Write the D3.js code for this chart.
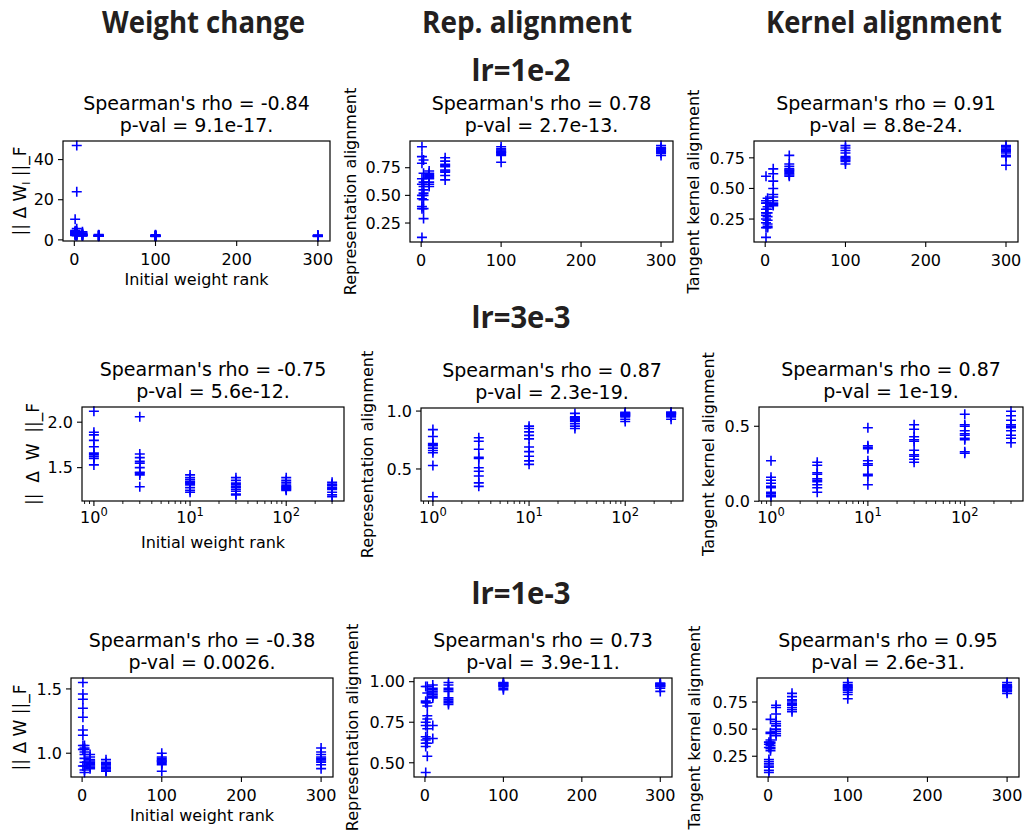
<!DOCTYPE html>
<html><head><meta charset="utf-8">
<script src="https://cdn.jsdelivr.net/npm/d3@7"></script>
<style>
body{margin:0;background:#fff;}
svg text{font-family:"DejaVu Sans",sans-serif;fill:#000;}
.hdr{font-family:"Liberation Sans Narrow","Open Sans",sans-serif;font-weight:bold;fill:#231f20;}
</style></head><body><svg id="c" width="1024" height="837"></svg>
<script>
const ranks = [1, 3, 10, 30, 100, 300];
const columnHeaders = ["Weight change", "Rep. alignment", "Kernel alignment"];
const rowHeaders = ["lr=1e-2", "lr=3e-3", "lr=1e-3"];
const rhoTexts = [["-0.84", "0.78", "0.91"], ["-0.75", "0.87", "0.87"], ["-0.38", "0.73", "0.95"]];
const pvalTexts = [["9.1e-17", "2.7e-13", "8.8e-24"], ["5.6e-12", "2.3e-19", "1e-19"], ["0.0026", "3.9e-11", "2.6e-31"]];
const yAxisLabels = ["|| Δ W ||_F", "Representation alignment", "Tangent kernel alignment"];
const xAxisLabel = "Initial weight rank";
const linearXTicks = [0, 100, 200, 300];
const logXTicks = [1, 10, 100];
const yTicksLr1e2 = [[0, 20, 40], [0.25, 0.5, 0.75], [0.25, 0.5, 0.75]];
const yTicksLr3e3 = [[1.5, 2.0], [0.5, 1.0], [0.0, 0.5]];
const yTicksLr1e3 = [[1.0, 1.5], [0.5, 0.75, 1.0], [0.25, 0.5, 0.75]];

// values per rank (rows follow `ranks`), ten runs each
const weightChange_lr1e2 = [
  [10.3, 4.6, 4.1, 3.7, 3.3, 3.0, 2.8, 2.5, 2.2, 3.9],
  [47.0, 24.0, 5.6, 4.3, 3.6, 3.1, 2.9, 2.6, 2.4, 2.1],
  [4.0, 3.4, 3.0, 2.8, 2.6, 2.5, 2.3, 2.2, 2.1, 2.0],
  [2.6, 2.4, 2.3, 2.2, 2.1, 2.0, 1.9, 1.9, 1.8, 1.8],
  [2.5, 2.3, 2.2, 2.1, 2.0, 2.0, 1.9, 1.8, 1.8, 1.7],
  [2.4, 2.2, 2.1, 2.0, 2.0, 1.9, 1.9, 1.8, 1.8, 1.7]];
const repAlign_lr1e2 = [
  [0.94, 0.85, 0.79, 0.65, 0.60, 0.50, 0.47, 0.40, 0.38, 0.12],
  [0.82, 0.70, 0.62, 0.58, 0.55, 0.52, 0.50, 0.46, 0.38, 0.29],
  [0.72, 0.70, 0.69, 0.68, 0.67, 0.66, 0.65, 0.62, 0.60, 0.58],
  [0.84, 0.81, 0.78, 0.77, 0.76, 0.73, 0.72, 0.71, 0.68, 0.64],
  [0.94, 0.92, 0.91, 0.90, 0.89, 0.89, 0.88, 0.87, 0.86, 0.80],
  [0.95, 0.93, 0.92, 0.92, 0.91, 0.90, 0.90, 0.89, 0.88, 0.86]];
const kernelAlign_lr1e2 = [
  [0.60, 0.40, 0.38, 0.33, 0.30, 0.28, 0.25, 0.22, 0.18, 0.10],
  [0.42, 0.38, 0.35, 0.33, 0.30, 0.27, 0.24, 0.21, 0.19, 0.18],
  [0.66, 0.62, 0.56, 0.50, 0.45, 0.43, 0.40, 0.38, 0.37, 0.36],
  [0.77, 0.70, 0.68, 0.66, 0.65, 0.64, 0.63, 0.62, 0.61, 0.60],
  [0.85, 0.83, 0.81, 0.79, 0.76, 0.75, 0.74, 0.73, 0.72, 0.70],
  [0.85, 0.84, 0.83, 0.82, 0.81, 0.80, 0.79, 0.77, 0.76, 0.69]];
const weightChange_lr3e3 = [
  [2.12, 1.89, 1.86, 1.80, 1.73, 1.66, 1.64, 1.62, 1.60, 1.53],
  [2.06, 1.65, 1.61, 1.57, 1.55, 1.50, 1.45, 1.44, 1.42, 1.29],
  [1.42, 1.39, 1.37, 1.35, 1.34, 1.33, 1.31, 1.28, 1.25, 1.23],
  [1.39, 1.36, 1.33, 1.31, 1.29, 1.28, 1.26, 1.24, 1.21, 1.20],
  [1.39, 1.36, 1.34, 1.32, 1.30, 1.29, 1.28, 1.27, 1.26, 1.25],
  [1.34, 1.32, 1.31, 1.30, 1.28, 1.27, 1.26, 1.23, 1.20, 1.18]];
const repAlign_lr3e3 = [
  [0.84, 0.78, 0.72, 0.71, 0.70, 0.68, 0.66, 0.64, 0.53, 0.26],
  [0.77, 0.74, 0.67, 0.60, 0.59, 0.51, 0.48, 0.44, 0.38, 0.35],
  [0.87, 0.85, 0.82, 0.79, 0.76, 0.69, 0.65, 0.61, 0.57, 0.54],
  [0.98, 0.95, 0.94, 0.94, 0.93, 0.92, 0.91, 0.89, 0.87, 0.85],
  [0.99, 0.98, 0.98, 0.97, 0.97, 0.96, 0.96, 0.95, 0.93, 0.91],
  [0.99, 0.99, 0.98, 0.98, 0.98, 0.97, 0.97, 0.96, 0.95, 0.93]];
const kernelAlign_lr3e3 = [
  [0.27, 0.16, 0.14, 0.12, 0.10, 0.09, 0.06, 0.05, 0.04, 0.03],
  [0.26, 0.24, 0.19, 0.18, 0.15, 0.14, 0.13, 0.11, 0.09, 0.06],
  [0.49, 0.37, 0.36, 0.35, 0.27, 0.25, 0.24, 0.18, 0.17, 0.11],
  [0.51, 0.48, 0.43, 0.41, 0.40, 0.34, 0.31, 0.30, 0.28, 0.26],
  [0.58, 0.51, 0.50, 0.47, 0.45, 0.44, 0.42, 0.41, 0.33, 0.32],
  [0.60, 0.57, 0.54, 0.51, 0.50, 0.49, 0.47, 0.44, 0.42, 0.39]];
const weightChange_lr1e3 = [
  [1.55, 1.46, 1.42, 1.35, 1.28, 1.18, 1.14, 1.06, 1.03, 0.90],
  [1.06, 1.04, 1.03, 1.01, 0.99, 0.96, 0.93, 0.90, 0.87, 0.85],
  [0.99, 0.97, 0.95, 0.94, 0.93, 0.92, 0.91, 0.90, 0.89, 0.88],
  [0.95, 0.93, 0.92, 0.91, 0.90, 0.89, 0.88, 0.87, 0.86, 0.86],
  [1.00, 0.97, 0.96, 0.95, 0.94, 0.94, 0.93, 0.92, 0.91, 0.86],
  [1.04, 1.01, 0.99, 0.97, 0.96, 0.95, 0.94, 0.93, 0.91, 0.88]];
const repAlign_lr1e3 = [
  [0.97, 0.88, 0.87, 0.75, 0.73, 0.66, 0.64, 0.62, 0.60, 0.44],
  [0.97, 0.93, 0.87, 0.85, 0.79, 0.77, 0.71, 0.65, 0.62, 0.54],
  [0.98, 0.96, 0.95, 0.94, 0.93, 0.92, 0.91, 0.90, 0.73, 0.65],
  [0.995, 0.98, 0.96, 0.95, 0.94, 0.90, 0.89, 0.88, 0.87, 0.86],
  [0.995, 0.99, 0.99, 0.98, 0.98, 0.98, 0.97, 0.97, 0.96, 0.95],
  [0.99, 0.99, 0.985, 0.98, 0.98, 0.975, 0.97, 0.97, 0.96, 0.94]];
const kernelAlign_lr1e3 = [
  [0.38, 0.36, 0.33, 0.22, 0.20, 0.18, 0.16, 0.15, 0.12, 0.10],
  [0.59, 0.47, 0.46, 0.40, 0.38, 0.37, 0.35, 0.33, 0.32, 0.30],
  [0.72, 0.70, 0.64, 0.57, 0.55, 0.53, 0.50, 0.48, 0.46, 0.44],
  [0.83, 0.80, 0.77, 0.76, 0.74, 0.73, 0.72, 0.70, 0.68, 0.66],
  [0.93, 0.91, 0.90, 0.89, 0.88, 0.87, 0.86, 0.84, 0.82, 0.78],
  [0.93, 0.91, 0.90, 0.89, 0.89, 0.88, 0.87, 0.86, 0.85, 0.83]];

// ---------- layout ----------
const svg = d3.select("#c");
const panelData = [
  [weightChange_lr1e2, repAlign_lr1e2, kernelAlign_lr1e2],
  [weightChange_lr3e3, repAlign_lr3e3, kernelAlign_lr3e3],
  [weightChange_lr1e3, repAlign_lr1e3, kernelAlign_lr1e3]];
const panelYTicks = [yTicksLr1e2, yTicksLr3e3, yTicksLr1e3];
const yTickFormats = [[".0f", ".2f", ".2f"], [".1f", ".1f", ".1f"], [".1f", ".2f", ".2f"]];
const rowIsLog = [false, true, false];
const boxes = [
  [[63,141,330,241],[410,141,673,242],[754,141,1018,242]],
  [[82,407,344,501],[421,408,683,501],[759,407,1023,501]],
  [[71,678,333,777],[414,678,672,777],[757,678,1019,777]]];
const yLabelX = [[20,350,693],[33,367,708],[20,352,694]];

// headers
const colHdrPos = [[203.5, 33, 203], [527, 33, 210], [884, 33, 236]];
columnHeaders.forEach((t, i) => {
  svg.append("text").attr("class", "hdr").attr("x", colHdrPos[i][0]).attr("y", colHdrPos[i][1])
    .attr("text-anchor", "middle").style("font-size", "30px")
    .attr("textLength", colHdrPos[i][2]).attr("lengthAdjust", "spacingAndGlyphs").text(t);
});
const rowHdrY = [81, 328, 604];
rowHeaders.forEach((t, i) => {
  svg.append("text").attr("class", "hdr").attr("x", 521).attr("y", rowHdrY[i])
    .attr("text-anchor", "middle").style("font-size", "31px")
    .attr("textLength", 99).attr("lengthAdjust", "spacingAndGlyphs").text(t);
});

const TICK = 5;
const plusPath = "M-5,0H5M0,-5V5";

for (let r = 0; r < 3; r++) {
  for (let c = 0; c < 3; c++) {
    const [x0, y0, x1, y1] = boxes[r][c];
    const data = panelData[r][c];
    const g = svg.append("g");
    let xs;
    if (rowIsLog[r]) {
      const lo = Math.log10(ranks[0]), hi = Math.log10(ranks[ranks.length - 1]);
      const m = 0.05 * (hi - lo);
      xs = d3.scaleLog().domain([Math.pow(10, lo - m), Math.pow(10, hi + m)]).range([x0, x1]);
    } else {
      const lo = ranks[0], hi = ranks[ranks.length - 1], m = 0.05 * (hi - lo);
      xs = d3.scaleLinear().domain([lo - m, hi + m]).range([x0, x1]);
    }
    const all = data.flat();
    const ymin = d3.min(all), ymax = d3.max(all), ym = 0.05 * (ymax - ymin);
    const ys = d3.scaleLinear().domain([ymin - ym, ymax + ym]).range([y1, y0]);

    // points
    const pts = [];
    data.forEach((vals, i) => vals.forEach(v => pts.push([ranks[i], v])));
    g.selectAll("path.pt").data(pts).join("path").attr("class", "pt")
      .attr("d", plusPath)
      .attr("transform", d => `translate(${xs(d[0])},${ys(d[1])})`)
      .attr("stroke", "#0000ff").attr("stroke-width", 1.6).attr("fill", "none");

    // frame
    g.append("rect").attr("x", x0).attr("y", y0).attr("width", x1 - x0).attr("height", y1 - y0)
      .attr("fill", "none").attr("stroke", "#000").attr("stroke-width", 1.2);

    // y ticks
    const fy = d3.format(yTickFormats[r][c]);
    panelYTicks[r][c].forEach(t => {
      const y = ys(t);
      g.append("line").attr("x1", x0 - TICK).attr("x2", x0).attr("y1", y).attr("y2", y)
        .attr("stroke", "#000").attr("stroke-width", 1.1);
      g.append("text").attr("x", x0 - TICK - 4).attr("y", y).attr("dy", "0.36em")
        .attr("text-anchor", "end").style("font-size", "16px").text(fy(t));
    });

    // x ticks
    if (rowIsLog[r]) {
      const [d0, d1] = xs.domain();
      const minor = [];
      for (let e = -1; e <= 3; e++) for (let k = 2; k <= 9; k++) {
        const v = k * Math.pow(10, e);
        if (v >= d0 && v <= d1) minor.push(v);
      }
      minor.forEach(v => {
        g.append("line").attr("x1", xs(v)).attr("x2", xs(v)).attr("y1", y1).attr("y2", y1 + 3)
          .attr("stroke", "#000").attr("stroke-width", 0.9);
      });
      logXTicks.forEach(v => {
        const x = xs(v);
        g.append("line").attr("x1", x).attr("x2", x).attr("y1", y1).attr("y2", y1 + TICK)
          .attr("stroke", "#000").attr("stroke-width", 1.1);
        const t = g.append("text").attr("x", x).attr("y", y1 + 22).attr("text-anchor", "middle")
          .style("font-size", "16px");
        t.append("tspan").text("10");
        t.append("tspan").attr("dy", -7).style("font-size", "11.5px").text(String(Math.round(Math.log10(v))));
      });
    } else {
      linearXTicks.forEach(v => {
        const x = xs(v);
        g.append("line").attr("x1", x).attr("x2", x).attr("y1", y1).attr("y2", y1 + TICK)
          .attr("stroke", "#000").attr("stroke-width", 1.1);
        g.append("text").attr("x", x).attr("y", y1 + 24).attr("text-anchor", "middle")
          .style("font-size", "16px").text(v);
      });
    }

    // title
    const cx = (x0 + x1) / 2;
    g.append("text").attr("x", cx).attr("y", y0 - 31).attr("text-anchor", "middle")
      .style("font-size", "19px").text(`Spearman's rho = ${rhoTexts[r][c]}`);
    g.append("text").attr("x", cx).attr("y", y0 - 9).attr("text-anchor", "middle")
      .style("font-size", "19px").text(`p-val = ${pvalTexts[r][c]}.`);

    // y label
    const yl = g.append("text").attr("transform", `translate(${yLabelX[r][c]},${(y0 + y1) / 2}) rotate(-90)`)
      .attr("text-anchor", "middle").attr("dy", "0.35em").style("white-space", "pre")
      .style("font-size", c === 0 ? "17px" : "16px");
    if (c === 0 && r === 0) {
      yl.append("tspan").text("|| Δ W");
      yl.append("tspan").attr("dy", 4).style("font-size", "11px").text("l");
      yl.append("tspan").attr("dy", -4).text(" ||_F");
    } else if (c === 0 && r === 1) {
      yl.text("||  Δ  W  ||_F");
    } else {
      yl.text(yAxisLabels[c]);
    }

    // x label (first column only)
    if (c === 0) {
      g.append("text").attr("x", cx).attr("y", y1 + (rowIsLog[r] ? 47 : 44)).attr("text-anchor", "middle")
        .style("font-size", "16px").text(xAxisLabel);
    }
  }
}
</script></body></html>
